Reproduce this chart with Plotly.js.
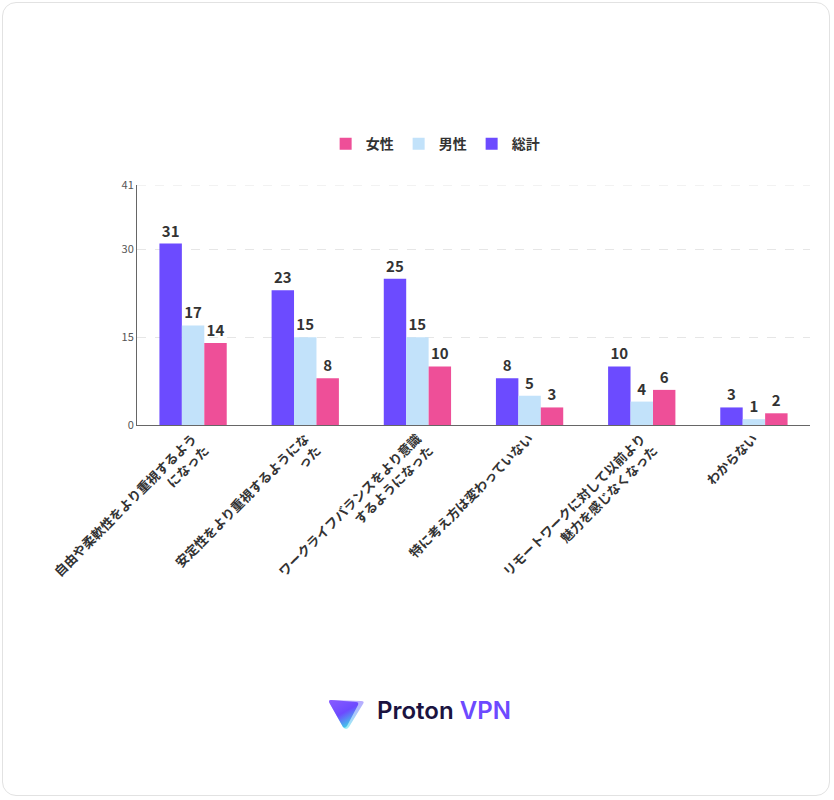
<!DOCTYPE html>
<html><head><meta charset="utf-8">
<script src="https://cdn.plot.ly/plotly-3.0.1.min.js"></script>
<style>html,body{margin:0;padding:0;background:#fff}#card{position:absolute;left:2px;top:2px;width:828px;height:794px;border:1px solid #e2e2e2;border-radius:14px;box-sizing:border-box}#chart{position:absolute;left:0;top:0;width:834px;height:800px}#logo{position:absolute;left:327px;top:697px;width:40px;height:34px;z-index:5}</style>
</head><body><div id="card"></div><div id="chart"></div>
<svg id="logo" xmlns="http://www.w3.org/2000/svg" width="40" height="34" viewBox="0 0 40 34">
<defs><linearGradient id="g" x1="0" y1="0" x2="0.6" y2="1"><stop offset="0" stop-color="#8A5CFF"/><stop offset="0.55" stop-color="#6D4AFF"/><stop offset="1" stop-color="#3FD0E8"/></linearGradient>
<linearGradient id="h" x1="0" y1="0" x2="0" y2="1"><stop offset="0" stop-color="#B9A6FF"/><stop offset="1" stop-color="#9CF0F5"/></linearGradient></defs>
<path d="M4 3 Q1 3 2.5 6 L16 30 Q19 34 22 30 L36 7 Q38 4 34 4 Z" fill="url(#h)"/>
<path d="M4 3 Q1 3 2.5 6 L16 30 Q18 32 20 29 L31 8 Q32 5 29 5 Z" fill="url(#g)"/></svg>
<script>
const categories = [
  "自由や柔軟性をより重視するよう<br>になった",
  "安定性をより重視するようにな<br>った",
  "ワークライフバランスをより意識<br>するようになった",
  "特に考え方は変わっていない",
  "リモートワークに対して以前より<br>魅力を感じなくなった",
  "わからない"
];
const total = [31, 23, 25, 8, 10, 3];
const male = [17, 15, 15, 5, 4, 1];
const female = [14, 8, 10, 3, 6, 2];
const seriesNames = ["総計", "男性", "女性"];
const yTicks = [0, 15, 30, 41];

const font = "'Noto Sans CJK JP', 'Noto Sans', sans-serif";
const colors = ["#6C4BFF", "#C2E2FA", "#EE4F98"];
const vals = [total, male, female];
const traces = vals.map((v, i) => ({
  type: 'bar', name: seriesNames[i], x: categories, y: v,
  marker: {color: colors[i]},
  text: v.map(String), textposition: 'outside', cliponaxis: false,
  textfont: {family: font, size: 15, color: '#333', weight: 700},
  hoverinfo: 'none'
}));

const layout = {
  width: 834, height: 800,
  margin: {l: 137, r: 24, t: 185, b: 375},
  paper_bgcolor: 'rgba(0,0,0,0)', plot_bgcolor: 'rgba(0,0,0,0)',
  barmode: 'group', bargap: 0.4, bargroupgap: 0,
  font: {family: font, color: '#333'},
  showlegend: true,
  legend: {orientation: 'h', x: 0.443, xanchor: 'center', y: 1.17, yanchor: 'middle',
    traceorder: 'reversed', font: {family: font, size: 14, color: '#333', weight: 700},
    itemwidth: 30},
  xaxis: {tickangle: -45, tickfont: {family: font, size: 13, color: '#333', weight: 700},
    showline: true, linecolor: '#666', linewidth: 1, ticks: '', showgrid: false},
  yaxis: {range: [0, 41], tickvals: yTicks, ticktext: yTicks.map(String),
    tickfont: {family: font, size: 11, color: '#555'},
    showline: true, linecolor: '#666', linewidth: 1, showgrid: true,
    gridcolor: '#e6e6e6', griddash: 'dash', zeroline: false, ticks: '', ticklen: 0},
  shapes: [
    {type: 'line', xref: 'paper', yref: 'y', x0: 0, x1: 1, y0: yTicks[3], y1: yTicks[3],
     line: {color: '#e6e6e6', width: 1, dash: 'dash'}, layer: 'below'}
  ],
  annotations: [
    {xref: 'paper', yref: 'paper', x: 0.354, y: -1.19, xanchor: 'left', yanchor: 'middle',
     showarrow: false,
     text: "Proton <span style='color:#6D4AFF'>VPN</span>",
     font: {family: "'Inter', 'Noto Sans', sans-serif", size: 24, color: '#1b1340', weight: 600}}
  ]
};
Plotly.newPlot('chart', traces, layout, {displayModeBar: false, staticPlot: true});
</script></body></html>
